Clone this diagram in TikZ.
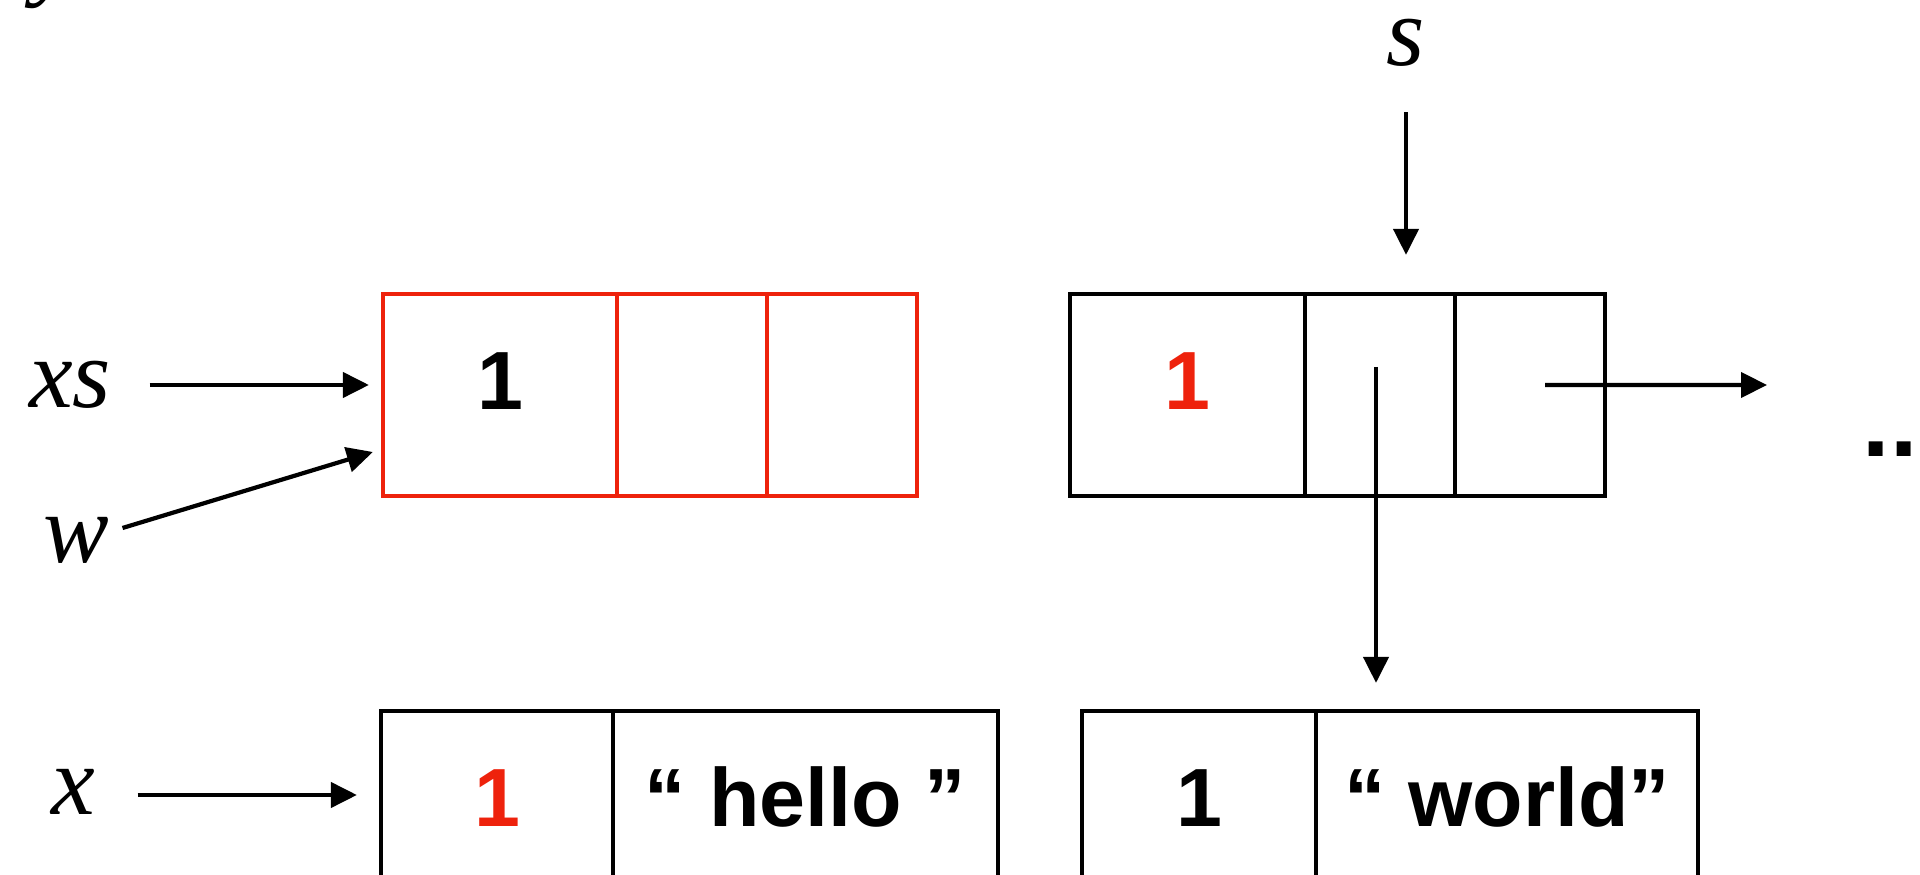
\documentclass[tikz,border=0pt]{standalone}
\usepackage{fontspec}
\setmainfont{Liberation Serif}
\setsansfont{Liberation Sans}
\usetikzlibrary{arrows.meta}
\definecolor{hotred}{RGB}{238,34,12}
\tikzstyle{cell}=[rectangle, draw, line width=1.2pt, minimum height=2.02cm, inner sep=0pt,
    text height=0.6cm, text depth=0.3cm,
    font=\sffamily\bfseries\fontsize{23.5}{28}\selectfont]
\tikzstyle{var}=[inner sep=0pt, font=\itshape\fontsize{28}{32}\selectfont]
\tikzstyle{ptr}=[-{Triangle[length=0.26cm,width=0.25cm]}, line width=1.2pt]
\newcommand{\cell}{\node[cell]}
\newcommand{\varnode}{\node[var]}

\begin{document}
\begin{tikzpicture}[x=1cm, y=1cm]
\useasboundingbox (0,0) rectangle (19.2,8.75);
% the cons cell xs points to
\cell[draw=hotred, minimum width=2.34cm] (r1) at (5.00,4.80) {1};
\cell[draw=hotred, minimum width=1.50cm] (r2) at (6.92,4.80) {};
\cell[draw=hotred, minimum width=1.50cm] (r3) at (8.42,4.80) {};
% the one s points to
\cell[minimum width=2.35cm] (b1) at (11.875,4.80) {\color{hotred}1};
\cell[minimum width=1.50cm] (b2) at (13.80,4.80) {};
\cell[minimum width=1.50cm] (b3) at (15.30,4.80) {};
% string records
\cell[minimum width=2.32cm] (h1) at (4.97,0.63) {\color{hotred}1};
\cell[minimum width=3.85cm] (h2) at (8.055,0.63) {“ hello ”};
\cell[minimum width=2.34cm] (d1) at (11.99,0.63) {1};
\cell[minimum width=3.82cm] (d2) at (15.07,0.63) {“ world”};

\varnode[anchor=base] (y) at (0.55,8.87) {y};
\varnode (xs) at (0.70,4.90) {xs};
\varnode (w) at (0.76,3.35) {w};
\varnode (s) at (14.06,8.32) {s};
\varnode (x) at (0.73,0.83) {x};
\node[anchor=base west, inner sep=0pt, font=\sffamily\bfseries\fontsize{28}{32}\selectfont]
    (dots) at (18.62,4.18) {..};
\coordinate (more) at (17.67,4.90);

\draw[ptr, shorten <=0.38cm, shorten >=0.12cm] (xs.east) -- (xs.east -| r1.west);
\draw[ptr] ([xshift=0.13cm,yshift=0.12cm]w.east) -- ([xshift=-0.08cm,yshift=-0.57cm]r1.west);
\draw[ptr, shorten <=0.45cm, shorten >=0.37cm] (s.south) -- (s.south |- b2.north);
\draw[ptr, shorten >=0.26cm] ([xshift=-0.04cm,yshift=0.28cm]b2.center)
    -- ([xshift=-0.04cm]b2.center |- d2.north);
\draw[ptr] ([xshift=0.15cm,yshift=0.10cm]b3.center) -- (more);
\draw[ptr, shorten <=0.42cm, shorten >=0.22cm] ([yshift=-0.03cm]x.east) -- ([yshift=-0.03cm]x.east -| h1.west);
\end{tikzpicture}
\end{document}
